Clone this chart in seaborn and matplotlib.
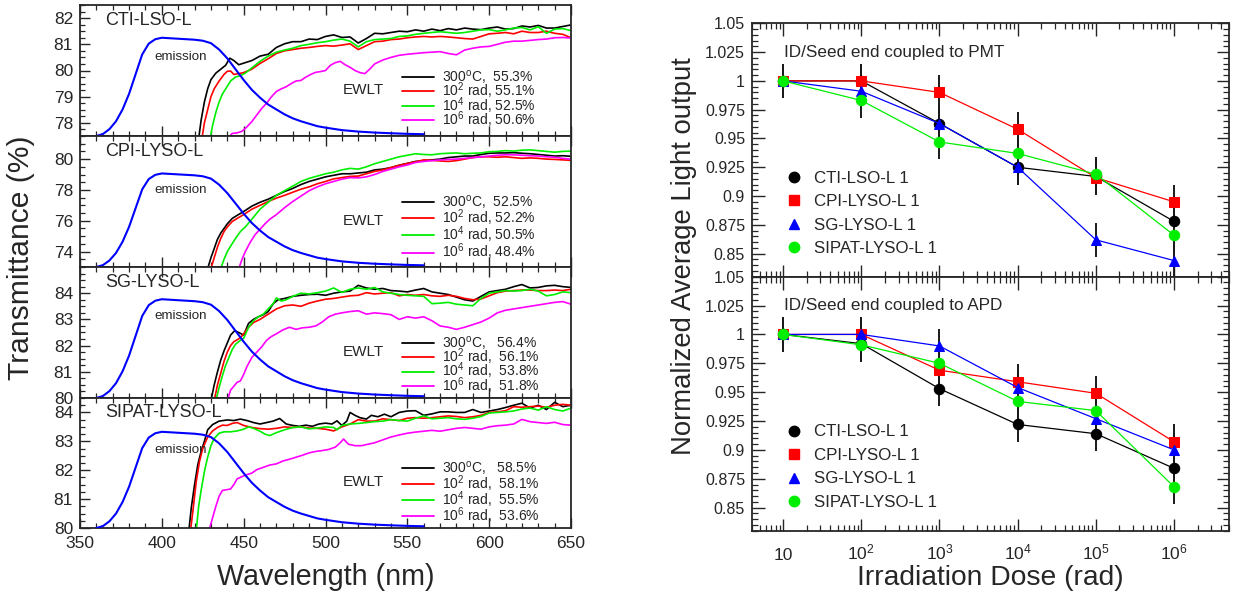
import numpy as np
import pandas as pd
import matplotlib
matplotlib.use("Agg")
import matplotlib.pyplot as plt
import seaborn as sns
from matplotlib.lines import Line2D
from matplotlib.ticker import MultipleLocator, FixedLocator, FixedFormatter, LogLocator, NullFormatter

# ---------------------------------------------------------------- data
crystals = ["CTI-LSO-L", "CPI-LYSO-L", "SG-LYSO-L", "SIPAT-LYSO-L"]
conditions = ["300C", "1e2", "1e4", "1e6"]
cond_colors = ["#000000", "#ff0000", "#00ee00", "#ff00ff"]

ewlt_cti = [55.3, 55.1, 52.5, 50.6]
ewlt_cpi = [52.5, 52.2, 50.5, 48.4]
ewlt_sg = [56.4, 56.1, 53.8, 51.8]
ewlt_sipat = [58.5, 58.1, 55.5, 53.6]

# emission spectrum (relative intensity, peak = 1)
em_wl = [360, 364, 368, 372, 376, 380, 384, 388, 392, 396, 400, 405, 410, 415, 420, 425, 430, 435,
         440, 445, 450, 455, 460, 465, 470, 475, 480, 485, 490, 495, 500, 510, 520, 530, 540, 550, 560]
em_rel = [0.0, 0.02, 0.07, 0.15, 0.27, 0.43, 0.63, 0.83, 0.94, 0.985, 1.0, 0.995, 0.99, 0.985, 0.98, 0.97,
          0.945, 0.88, 0.79, 0.68, 0.57, 0.47, 0.39, 0.32, 0.27, 0.22, 0.18, 0.15, 0.125, 0.10, 0.085,
          0.06, 0.045, 0.035, 0.028, 0.022, 0.018]
em_peak = [81.25, 79.07, 83.77, 83.33]

# ---- CTI-LSO-L transmittance
cti_300c_wl = [422.5, 424, 426, 428, 430, 433, 436, 439, 441.5, 444, 447, 450, 455, 460, 465, 470, 475, 480, 485,
               490, 495, 500, 505, 510, 515, 520, 525, 530, 535, 540, 545, 550, 555, 560, 565, 570, 575, 580, 585,
               590, 595, 600, 605, 610, 615, 620, 625, 630, 635, 640, 645, 650]
cti_300c_t = [77.4, 78.1, 78.8, 79.3, 79.65, 79.9, 80.05, 80.2, 80.47, 80.38, 80.22, 80.28, 80.38, 80.55, 80.62,
              80.88, 81.02, 81.1, 81.1, 81.2, 81.18, 81.3, 81.36, 81.26, 81.28, 81.05, 81.22, 81.42, 81.4, 81.45,
              81.5, 81.48, 81.55, 81.5, 81.58, 81.52, 81.6, 81.55, 81.62, 81.58, 81.56, 81.62, 81.66, 81.58, 81.6,
              81.7, 81.66, 81.72, 81.62, 81.62, 81.68, 81.74]
cti_1e2_wl = [424.5, 426, 428, 430, 432, 435, 438, 440, 442, 444, 447, 450, 455, 460, 465, 470, 475, 480, 485, 490,
              495, 500, 505, 510, 515, 520, 525, 530, 535, 540, 545, 550, 555, 560, 565, 570, 575, 580, 585, 590,
              595, 600, 605, 610, 615, 620, 625, 630, 635, 640, 645, 650]
cti_1e2_t = [77.4, 78.0, 78.5, 79.0, 79.3, 79.6, 79.85, 79.97, 79.98, 79.85, 79.88, 79.92, 80.05, 80.27, 80.45,
             80.65, 80.75, 80.8, 80.85, 80.88, 80.92, 80.95, 80.93, 80.97, 81.02, 80.8, 80.95, 81.1, 81.12, 81.18,
             81.2, 81.25, 81.28, 81.3, 81.28, 81.3, 81.28, 81.25, 81.22, 81.2, 81.3, 81.4, 81.42, 81.45, 81.4,
             81.5, 81.45, 81.45, 81.5, 81.42, 81.38, 81.25]
cti_1e4_wl = [429.5, 431, 433, 435, 437, 440, 442, 445, 448, 451, 455, 460, 465, 470, 475, 480, 485, 490, 495, 500,
              505, 510, 515, 520, 525, 530, 535, 540, 545, 550, 555, 560, 565, 570, 575, 580, 585, 590, 595, 600,
              605, 610, 615, 620, 625, 630, 635, 640, 645, 650]
cti_1e4_t = [77.4, 77.9, 78.4, 78.8, 79.1, 79.4, 79.6, 79.75, 79.8, 79.9, 80.1, 80.35, 80.55, 80.7, 80.78, 80.85,
             80.95, 81.0, 81.06, 81.1, 81.16, 81.2, 81.12, 80.9, 81.1, 81.18, 81.2, 81.22, 81.3, 81.32, 81.38,
             81.42, 81.45, 81.48, 81.45, 81.42, 81.45, 81.5, 81.55, 81.56, 81.5, 81.55, 81.62, 81.64, 81.55,
             81.67, 81.42, 81.58, 81.6, 81.52]
cti_1e6_wl = [441, 443, 446, 449, 452, 455, 458, 461, 464, 467, 470, 473, 476, 479, 482, 485, 488, 491, 494, 497,
              500, 503, 506, 509, 512, 515, 518, 521, 524, 527, 530, 535, 540, 545, 550, 555, 560, 565, 570, 575,
              580, 585, 590, 595, 600, 605, 610, 615, 620, 625, 630, 635, 640, 645, 650]
cti_1e6_t = [77.45, 77.6, 77.62, 77.68, 77.85, 78.05, 78.3, 78.55, 78.75, 79.0, 79.2, 79.3, 79.38, 79.5, 79.6,
             79.62, 79.75, 79.85, 79.93, 79.96, 80.0, 80.2, 80.3, 80.35, 80.22, 80.12, 80.0, 79.92, 79.88, 80.05,
             80.25, 80.4, 80.5, 80.58, 80.62, 80.65, 80.68, 80.7, 80.72, 80.65, 80.6, 80.78, 80.85, 80.9, 80.92,
             81.0, 81.08, 81.12, 81.12, 81.15, 81.18, 81.2, 81.25, 81.26, 81.24]

# ---- CPI-LYSO-L transmittance
cpi_300c_wl = [428, 430, 432, 434, 436, 438, 440, 443, 446, 450, 455, 460, 465, 470, 475, 480, 485, 490, 495, 500,
               505, 510, 515, 520, 525, 530, 535, 540, 545, 550, 555, 560, 565, 570, 575, 580, 585, 590, 595, 600,
               605, 610, 615, 620, 625, 630, 635, 640, 645, 650]
cpi_300c_t = [72.9, 73.6, 74.2, 74.8, 75.2, 75.5, 75.8, 76.15, 76.35, 76.6, 76.95, 77.2, 77.4, 77.65, 77.9, 78.1,
              78.35, 78.55, 78.7, 78.85, 78.95, 79.05, 79.05, 79.1, 79.15, 79.3, 79.35, 79.45, 79.6, 79.72, 79.85,
              79.9, 79.95, 80.0, 80.1, 80.15, 80.2, 80.2, 80.3, 80.38, 80.4, 80.4, 80.42, 80.38, 80.35, 80.3, 80.25,
              80.2, 80.22, 80.18]
cpi_1e2_wl = [430, 432, 434, 436, 438, 440, 443, 446, 450, 455, 460, 465, 470, 475, 480, 485, 490, 495, 500, 505,
              510, 515, 520, 525, 530, 535, 540, 545, 550, 555, 560, 565, 570, 575, 580, 585, 590, 595, 600, 605,
              610, 615, 620, 625, 630, 635, 640, 645, 650]
cpi_1e2_t = [72.9, 73.6, 74.3, 74.85, 75.3, 75.6, 75.95, 76.15, 76.4, 76.75, 77.0, 77.25, 77.47, 77.65, 77.85,
             78.05, 78.2, 78.4, 78.55, 78.72, 78.8, 78.88, 78.9, 79.05, 79.2, 79.3, 79.45, 79.6, 79.72, 79.82,
             79.95, 79.92, 79.88, 79.85, 79.9, 80.0, 80.1, 80.15, 80.15, 80.12, 80.15, 80.1, 80.05, 80.08, 80.05,
             80.0, 79.98, 79.95, 79.92]
cpi_1e4_wl = [436, 438, 440, 442, 445, 448, 451, 455, 460, 465, 470, 475, 480, 485, 490, 495, 500, 505, 510, 515,
              520, 525, 530, 535, 540, 545, 550, 555, 560, 565, 570, 575, 580, 585, 590, 595, 600, 605, 610, 615,
              620, 625, 630, 635, 640, 645, 650]
cpi_1e4_t = [72.9, 73.5, 74.0, 74.35, 74.85, 75.3, 75.6, 76.1, 76.75, 77.2, 77.65, 77.95, 78.25, 78.55, 78.75,
             78.9, 79.05, 79.15, 79.3, 79.4, 79.35, 79.5, 79.7, 79.85, 80.0, 80.15, 80.25, 80.35, 80.3, 80.28,
             80.35, 80.38, 80.4, 80.35, 80.38, 80.4, 80.48, 80.5, 80.55, 80.52, 80.58, 80.6, 80.55, 80.5, 80.45,
             80.5, 80.52]
cpi_1e6_wl = [447, 449, 451, 454, 457, 460, 463, 466, 470, 475, 480, 485, 490, 495, 500, 505, 510, 515, 520, 525,
              530, 535, 540, 545, 550, 555, 560, 565, 570, 575, 580, 585, 590, 595, 600, 605, 610, 615, 620, 625,
              630, 635, 640, 645, 650]
cpi_1e6_t = [72.9, 73.5, 74.0, 74.6, 75.1, 75.45, 75.8, 76.1, 76.4, 76.85, 77.25, 77.6, 77.95, 78.2, 78.4, 78.55,
             78.7, 78.8, 78.78, 78.85, 79.0, 79.2, 79.35, 79.5, 79.62, 79.78, 79.85, 79.9, 79.95, 79.98, 80.0,
             80.05, 80.1, 80.15, 80.2, 80.25, 80.28, 80.28, 80.25, 80.22, 80.2, 80.15, 80.12, 80.05, 80.0]

# ---- SG-LYSO-L transmittance
sg_300c_wl = [430, 432, 434, 436, 438, 440, 442, 444.5, 447, 450, 453, 456, 459, 462, 465, 468, 471, 475, 480, 485,
              490, 495, 500, 505, 510, 515, 520, 525, 530, 535, 540, 545, 550, 555, 560, 565, 570, 575, 580, 585,
              590, 595, 600, 605, 610, 615, 620, 625, 630, 635, 640, 645, 650]
sg_300c_t = [79.9, 80.5, 81.0, 81.45, 81.8, 82.1, 82.4, 82.57, 82.5, 82.4, 82.85, 83.0, 83.1, 83.18, 83.3, 83.6,
             83.75, 83.8, 83.88, 83.92, 83.95, 83.96, 83.92, 84.0, 84.05, 84.08, 84.3, 84.2, 84.15, 84.18, 84.1,
             84.08, 84.05, 84.12, 84.18, 84.05, 84.0, 83.95, 83.85, 83.75, 83.7, 83.88, 84.05, 84.1, 84.15, 84.25,
             84.33, 84.2, 84.22, 84.28, 84.3, 84.25, 84.22]
sg_1e2_wl = [432, 434, 436, 438, 440, 442, 444, 446, 448, 450, 453, 456, 460, 465, 470, 475, 480, 485, 490, 495,
             500, 505, 510, 515, 520, 525, 530, 535, 540, 545, 550, 555, 560, 565, 570, 575, 580, 585, 590, 595,
             600, 605, 610, 615, 620, 625, 630, 635, 640, 645, 650]
sg_1e2_t = [79.9, 80.5, 80.95, 81.4, 81.75, 82.0, 82.15, 82.22, 82.3, 82.45, 82.7, 82.88, 83.0, 83.2, 83.4, 83.52,
            83.55, 83.5, 83.62, 83.7, 83.77, 83.8, 83.85, 83.9, 83.92, 84.02, 83.97, 84.0, 84.02, 83.9, 83.95,
            83.92, 83.95, 83.9, 83.88, 83.92, 83.88, 83.8, 83.75, 83.78, 83.9, 84.02, 84.08, 84.1, 84.12, 84.12,
            84.1, 84.1, 84.12, 84.1, 84.15]
sg_1e4_wl = [433, 435, 437, 439, 441, 443, 445, 448, 450, 453, 456, 459, 462, 465, 468, 470, 473, 476, 480, 485,
             490, 495, 500, 505, 510, 515, 520, 525, 530, 535, 540, 545, 550, 555, 560, 565, 570, 575, 580, 585,
             590, 595, 600, 605, 610, 615, 620, 625, 630, 635, 640, 645, 650]
sg_1e4_t = [79.9, 80.4, 80.85, 81.25, 81.55, 81.85, 82.05, 82.2, 82.28, 82.7, 82.95, 83.1, 83.2, 83.4, 83.6, 83.82,
            83.7, 83.75, 83.88, 84.0, 83.97, 84.02, 84.08, 84.2, 84.03, 84.15, 84.2, 84.15, 84.22, 84.05, 84.0,
            83.95, 83.92, 83.9, 83.88, 83.6, 83.62, 83.65, 83.58, 83.55, 83.52, 83.8, 84.0, 84.05, 84.1, 84.08,
            84.1, 84.15, 84.08, 83.9, 83.95, 84.05, 84.02]
sg_1e6_wl = [440, 442, 444, 446, 448, 450, 452, 455, 458, 461, 464, 467, 470, 474, 478, 482, 486, 490, 494, 498,
             502, 506, 510, 515, 520, 525, 530, 535, 540, 545, 550, 555, 560, 565, 570, 575, 580, 585, 590, 595,
             600, 605, 610, 615, 620, 625, 630, 635, 640, 645, 650]
sg_1e6_t = [79.9, 80.3, 80.45, 80.6, 80.65, 80.9, 81.2, 81.55, 81.75, 81.95, 82.2, 82.35, 82.45, 82.6, 82.7, 82.62,
            82.68, 82.7, 82.75, 82.9, 83.1, 83.2, 83.25, 83.3, 83.33, 83.2, 83.25, 83.22, 83.18, 83.0, 83.1, 83.05,
            83.1, 82.95, 82.75, 82.7, 82.62, 82.7, 82.8, 82.9, 83.05, 83.25, 83.35, 83.4, 83.45, 83.5, 83.55, 83.6,
            83.65, 83.68, 83.58]

# ---- SIPAT-LYSO-L transmittance
sipat_300c_wl = [416.5, 418, 420, 422, 424, 426, 428, 431, 435, 440, 444, 448, 452, 456, 460, 464, 468, 472, 476,
                 480, 484, 488, 492, 496, 500, 504, 507, 510, 513, 515, 518, 521, 525, 528, 532, 536, 540, 545,
                 550, 555, 560, 565, 570, 575, 580, 585, 590, 595, 600, 605, 610, 615, 620, 625, 630, 635, 640,
                 645, 650]
sipat_300c_t = [79.9, 80.7, 81.5, 82.2, 82.65, 83.0, 83.4, 83.58, 83.7, 83.74, 83.72, 83.77, 83.72, 83.65, 83.6,
                83.65, 83.7, 83.79, 83.6, 83.55, 83.52, 83.56, 83.52, 83.6, 83.63, 83.6, 83.71, 83.55, 83.7, 84.0,
                83.9, 83.82, 83.77, 83.9, 83.85, 83.94, 83.85, 84.0, 84.05, 84.06, 83.9, 83.95, 84.02, 84.02, 84.0,
                84.0, 84.1, 84.0, 84.05, 84.1, 84.17, 84.25, 84.32, 84.15, 84.25, 84.1, 84.35, 84.2, 84.25]
sipat_1e2_wl = [417.5, 419, 421, 423, 425, 428, 431, 434, 437, 440, 443, 446, 450, 455, 460, 465, 470, 475, 480,
                485, 490, 495, 500, 505, 510, 515, 520, 525, 530, 535, 540, 545, 550, 555, 560, 565, 570, 575,
                580, 585, 590, 595, 600, 605, 610, 615, 620, 625, 630, 635, 640, 645, 650]
sipat_1e2_t = [79.9, 80.6, 81.6, 82.3, 82.75, 83.15, 83.36, 83.48, 83.56, 83.55, 83.62, 83.65, 83.55, 83.48, 83.44,
               83.42, 83.45, 83.5, 83.48, 83.5, 83.46, 83.45, 83.42, 83.36, 83.5, 83.6, 83.75, 83.7, 83.7, 83.78,
               83.75, 83.72, 83.8, 83.82, 83.8, 83.82, 83.85, 83.88, 83.86, 83.82, 83.85, 83.9, 84.0, 84.02, 84.06,
               84.2, 84.18, 84.2, 84.22, 84.18, 84.25, 84.28, 84.25]
sipat_1e4_wl = [421, 422.5, 424, 426, 428, 430, 432, 435, 438, 442, 446, 450, 453, 456, 460, 463, 466, 470, 475,
                480, 485, 490, 495, 500, 505, 507, 510, 515, 520, 525, 530, 535, 540, 545, 550, 555, 560, 565, 570,
                575, 580, 585, 590, 595, 600, 605, 610, 615, 620, 625, 630, 635, 640, 645, 650]
sipat_1e4_t = [79.9, 80.75, 81.3, 81.95, 82.45, 82.85, 83.1, 83.28, 83.33, 83.33, 83.36, 83.42, 83.5, 83.45, 83.35,
               83.25, 83.2, 83.3, 83.4, 83.48, 83.5, 83.43, 83.46, 83.5, 83.48, 83.4, 83.55, 83.6, 83.62, 83.65,
               83.68, 83.7, 83.75, 83.72, 83.7, 83.8, 83.88, 83.78, 83.8, 83.82, 83.78, 83.76, 83.8, 83.86, 83.98,
               84.0, 84.02, 84.05, 84.12, 84.15, 84.08, 84.2, 84.1, 84.05, 84.15]
sipat_1e6_wl = [429, 431, 433, 435, 437, 440, 442, 444, 446, 449, 452, 455, 458, 462, 466, 470, 474, 478, 482, 486,
                490, 494, 498, 502, 506, 509, 511, 514, 518, 522, 526, 530, 535, 540, 545, 550, 555, 560, 565, 570,
                575, 580, 585, 590, 595, 600, 605, 610, 615, 620, 625, 630, 635, 640, 645, 650]
sipat_1e6_t = [79.95, 80.35, 80.75, 81.1, 81.3, 81.33, 81.35, 81.5, 81.7, 81.78, 81.85, 81.9, 82.02, 82.1, 82.18,
               82.22, 82.32, 82.38, 82.45, 82.52, 82.6, 82.65, 82.68, 82.72, 82.8, 82.95, 83.08, 82.9, 82.85, 82.85,
               82.9, 82.95, 83.05, 83.15, 83.22, 83.28, 83.32, 83.35, 83.38, 83.35, 83.4, 83.45, 83.48, 83.45, 83.42,
               83.5, 83.54, 83.56, 83.6, 83.76, 83.68, 83.65, 83.62, 83.66, 83.58, 83.56]

panel_ylim = [(77.5, 82.5), (73.0, 81.5), (80.0, 85.0), (80.0, 84.5)]
panel_yticks = [[78, 79, 80, 81, 82], [74, 76, 78, 80], [80, 81, 82, 83, 84], [80, 81, 82, 83, 84]]
panel_yminor = [0.25, 0.5, 0.25, 0.25]
wl_ticks = [350, 400, 450, 500, 550, 600, 650]

# ---- light output vs dose
dose = [10, 1e2, 1e3, 1e4, 1e5, 1e6]
dose_ticks = [10, 1e2, 1e3, 1e4, 1e5, 1e6]
dose_labels = ["10", "$10^{2}$", "$10^{3}$", "$10^{4}$", "$10^{5}$", "$10^{6}$"]
lo_series = ["CTI-LSO-L 1", "CPI-LYSO-L 1", "SG-LYSO-L 1", "SIPAT-LYSO-L 1"]
lo_colors = ["#000000", "#ff0000", "#0000ff", "#00ee00"]
lo_markers = ["o", "s", "^", "o"]
pmt_cti = [1.0, 1.0, 0.963, 0.925, 0.917, 0.878]
pmt_cpi = [1.0, 1.0, 0.990, 0.958, 0.916, 0.895]
pmt_sg = [1.0, 0.991, 0.963, 0.925, 0.862, 0.844]
pmt_sipat = [1.0, 0.983, 0.947, 0.937, 0.919, 0.866]
apd_cti = [1.0, 0.992, 0.953, 0.922, 0.914, 0.884]
apd_cpi = [1.0, 1.0, 0.969, 0.959, 0.949, 0.907]
apd_sg = [1.0, 1.0, 0.990, 0.954, 0.927, 0.900]
apd_sipat = [1.0, 0.991, 0.975, 0.942, 0.934, 0.868]
lo_err = 0.015
lo_yticks = [0.85, 0.875, 0.9, 0.925, 0.95, 0.975, 1.0, 1.025, 1.05]
lo_ylabels = ["0.85", "0.875", "0.9", "0.925", "0.95", "0.975", "1", "1.025", "1.05"]

# ---------------------------------------------------------------- style
sns.set_theme(style="ticks")
plt.rcParams["font.family"] = ["Liberation Sans", "DejaVu Sans"]
plt.rcParams["mathtext.fontset"] = "custom"
plt.rcParams["mathtext.rm"] = "Liberation Sans"
plt.rcParams["mathtext.it"] = "Liberation Sans:italic"
plt.rcParams["mathtext.bf"] = "Liberation Sans:bold"
plt.rcParams["axes.linewidth"] = 1.3

W, H = 1234, 599
fig = plt.figure(figsize=(W / 100, H / 100), dpi=100)


def frac_box(x0, y0, x1, y1):
    return [x0 / W, 1 - y1 / H, (x1 - x0) / W, (y1 - y0) / H]


panel_edges = [(5, 136), (136, 267), (267, 398), (398, 528)]
legend_center = [0.281, 0.30, 0.252, 0.273]
legend_spacing = [-0.42, -0.25, -0.42, -0.33]
emission_y = [0.603, 0.588, 0.626, 0.603]
curves = [
    [(cti_300c_wl, cti_300c_t), (cti_1e2_wl, cti_1e2_t), (cti_1e4_wl, cti_1e4_t), (cti_1e6_wl, cti_1e6_t)],
    [(cpi_300c_wl, cpi_300c_t), (cpi_1e2_wl, cpi_1e2_t), (cpi_1e4_wl, cpi_1e4_t), (cpi_1e6_wl, cpi_1e6_t)],
    [(sg_300c_wl, sg_300c_t), (sg_1e2_wl, sg_1e2_t), (sg_1e4_wl, sg_1e4_t), (sg_1e6_wl, sg_1e6_t)],
    [(sipat_300c_wl, sipat_300c_t), (sipat_1e2_wl, sipat_1e2_t), (sipat_1e4_wl, sipat_1e4_t),
     (sipat_1e6_wl, sipat_1e6_t)],
]
ewlts = [ewlt_cti, ewlt_cpi, ewlt_sg, ewlt_sipat]

for i in range(4):
    t, b = panel_edges[i]
    ax = fig.add_axes(frac_box(80, t, 571, b))
    ylo, yhi = panel_ylim[i]
    sep = "  " if i < 2 else "   "
    sep2 = " " if i < 2 else "  "
    e = ewlts[i]
    labels = [f"300$^{{\\rm o}}$C,{sep}{e[0]:.1f}%",
              f"10$^{{2}}$ rad,{sep2}{e[1]:.1f}%",
              f"10$^{{4}}$ rad,{sep2}{e[2]:.1f}%",
              f"10$^{{6}}$ rad,{sep2}{e[3]:.1f}%"]
    for k in range(4):
        wl, tr = curves[i][k]
        df = pd.DataFrame({"wl": wl, "T": tr})
        sns.lineplot(data=df, x="wl", y="T", ax=ax, color=cond_colors[k], lw=1.2,
                     sort=False, estimator=None, label=labels[k])
    ax.set_xlim(350, 650)
    ax.set_ylim(ylo, yhi)
    ax.set_xlabel("")
    ax.set_ylabel("")
    ax.xaxis.set_major_locator(FixedLocator(wl_ticks))
    ax.xaxis.set_minor_locator(MultipleLocator(10))
    ax.yaxis.set_major_locator(FixedLocator(panel_yticks[i]))
    ax.yaxis.set_minor_locator(MultipleLocator(panel_yminor[i]))
    ax.tick_params(which="both", direction="in", top=True, right=True, labelsize=12.5, pad=5)
    ax.tick_params(which="major", length=7, width=1.0)
    ax.tick_params(which="minor", length=3.5, width=0.9)
    if i < 3:
        ax.tick_params(labelbottom=False)
    else:
        ax.tick_params(axis="x", pad=6)
        ax.set_xlabel("Wavelength (nm)", fontsize=20.7, va="center")
        ax.xaxis.set_label_coords(0.5, -(577 - 528) / 130, transform=ax.transAxes)
    leg = ax.legend(loc="center left", bbox_to_anchor=(0.655, legend_center[i]), frameon=False, fontsize=10,
                    handlelength=2.3, handletextpad=0.6, labelspacing=legend_spacing[i], borderaxespad=0,
                    borderpad=0)
    for ln in leg.get_lines():
        ln.set_linewidth(1.3)
    ax.text(0.051, 0.885, crystals[i], transform=ax.transAxes, fontsize=13, va="center", ha="left")
    ax.text(0.204, emission_y[i], "emission", transform=ax.transAxes, fontsize=9.6, va="center", ha="center")
    ax.text(0.536, 0.35, "EWLT", transform=ax.transAxes, fontsize=11, va="center", ha="left")

    tw = ax.twinx()
    sns.lineplot(x=em_wl, y=em_rel, ax=tw, color="#0000ff", lw=1.5, sort=False, estimator=None)
    tw.set_ylim(0, (yhi - ylo) / (em_peak[i] - ylo))
    tw.set_xlim(350, 650)
    tw.axis("off")

fig.text(21 / W, 1 - 258 / H, "Transmittance (%)", rotation=90, ha="center", va="center", fontsize=21.6)

# ---------------------------------------------------------------- right panels
lo_sets = [
    ([pmt_cti, pmt_cpi, pmt_sg, pmt_sipat], "ID/Seed end coupled to PMT", (23.3, 276.7)),
    ([apd_cti, apd_cpi, apd_sg, apd_sipat], "ID/Seed end coupled to APD", (276.7, 530.7)),
]
for j, (series, title, (t, b)) in enumerate(lo_sets):
    ax = fig.add_axes(frac_box(752, t, 1228.7, b))
    ax.set_xscale("log")
    for k in range(4):
        ax.errorbar(dose, series[k], yerr=lo_err, fmt="none", ecolor="#1a1a1a", elinewidth=1.4,
                    capsize=0, zorder=2)
    for k in range(4):
        sns.lineplot(x=dose, y=series[k], ax=ax, color=lo_colors[k], lw=0.9, marker=lo_markers[k],
                     markersize=7.5, markeredgecolor=lo_colors[k], sort=False, estimator=None, zorder=3 + k)
    ax.set_xlim(4, 5e6)
    ax.set_ylim(0.83, 1.05)
    ax.xaxis.set_major_locator(FixedLocator(dose_ticks))
    ax.xaxis.set_major_formatter(FixedFormatter(dose_labels))
    ax.xaxis.set_minor_locator(LogLocator(base=10, subs=np.arange(2, 10)))
    ax.xaxis.set_minor_formatter(NullFormatter())
    ax.yaxis.set_major_locator(FixedLocator(lo_yticks))
    ax.yaxis.set_major_formatter(FixedFormatter(lo_ylabels))
    ax.yaxis.set_minor_locator(MultipleLocator(0.005))
    ax.tick_params(which="both", direction="in", top=True, right=True)
    ax.tick_params(which="major", length=9, width=1.0)
    ax.tick_params(which="minor", length=4.5, width=0.9)
    ax.tick_params(axis="y", labelsize=11.5, pad=5)
    ax.tick_params(axis="x", labelsize=12.5, pad=21)
    ax.set_xlabel("")
    ax.set_ylabel("")
    if j == 0:
        ax.tick_params(labelbottom=False)
    else:
        for lbl in ax.get_xticklabels():
            lbl.set_verticalalignment("baseline")
        ax.set_xlabel("Irradiation Dose (rad)", fontsize=20.3, va="center")
        ax.xaxis.set_label_coords(0.5, -(578 - 530.7) / 254, transform=ax.transAxes)
    handles = [Line2D([], [], ls="none", marker=lo_markers[k], color=lo_colors[k], markersize=7.5)
               for k in range(4)]
    ax.legend(handles, lo_series, loc="center left", bbox_to_anchor=(0.07, 0.25), frameon=False,
              fontsize=12.2, handlelength=1.0, handletextpad=0.7, labelspacing=0.5, borderaxespad=0,
              borderpad=0)
    ax.text(0.067, 0.885, title, transform=ax.transAxes, fontsize=12.3, va="center", ha="left")

fig.text(684 / W, 1 - 256.5 / H, "Normalized Average Light output", rotation=90, ha="center", va="center",
         fontsize=19.8)

fig.savefig("out.png", dpi=100)
